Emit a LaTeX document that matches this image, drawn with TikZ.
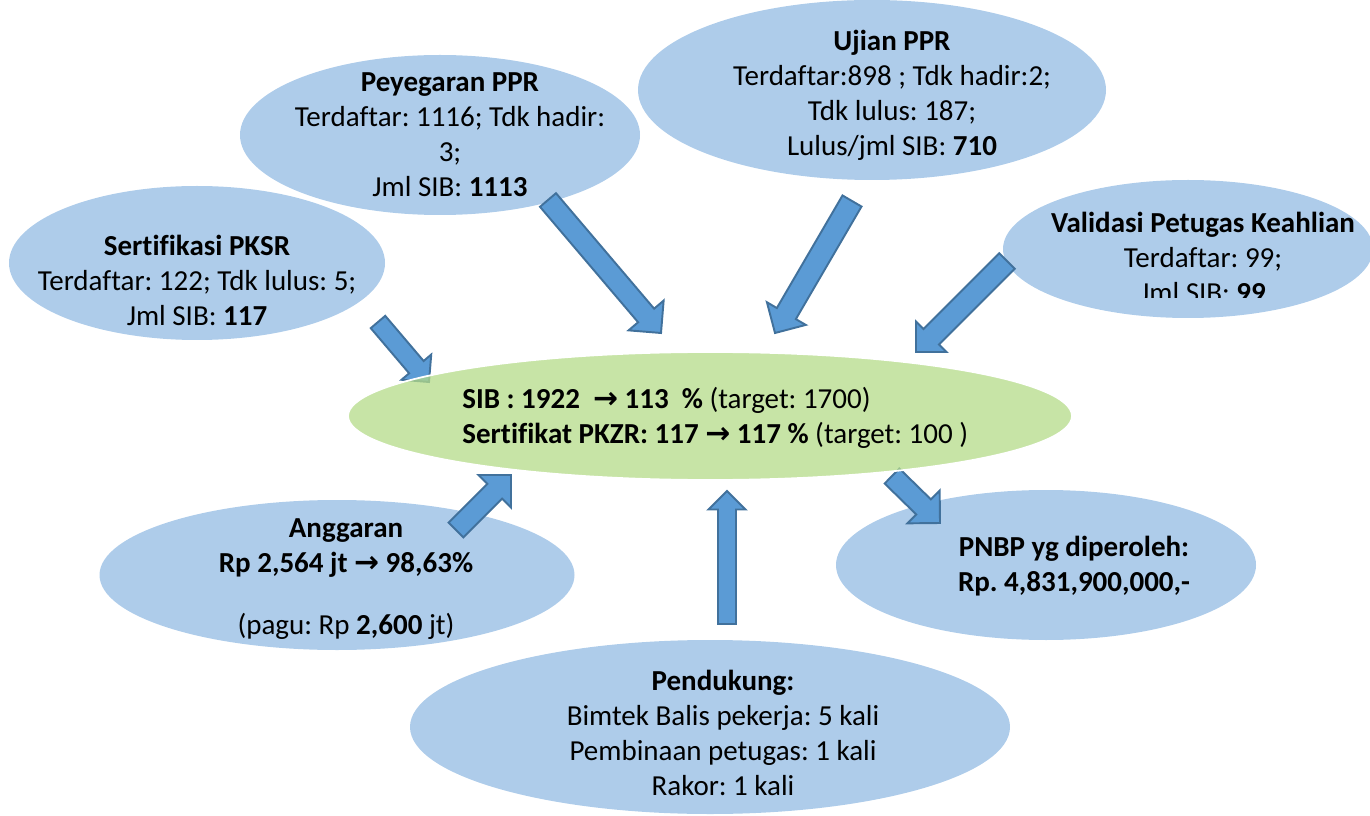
\documentclass[tikz,border=0pt]{standalone}
\usepackage{fontspec}
\setmainfont[Ligatures=NoCommon]{Carlito}
\newfontfamily\arrowfont{DejaVu Sans}
\usetikzlibrary{shapes.geometric, calc}
\frenchspacing

\definecolor{bubbleblue}{RGB}{174,204,234}
\definecolor{hubgreen}{RGB}{180,219,136}
\definecolor{arrowfill}{RGB}{91,155,213}
\definecolor{arrowline}{RGB}{65,113,156}
\newcommand{\goesto}{{\arrowfont\bfseries\fontsize{17}{17}\selectfont →}}

\tikzset{
	bubble/.style={ellipse, fill=bubbleblue, inner sep=0pt},
	info/.style={align=center, inner sep=0pt, font=\fontsize{16.5}{19.9}\selectfont},
	blockarrow/.style={draw=arrowline, fill=arrowfill, line width=1.1pt, line join=miter}
}

\begin{document}
\begin{tikzpicture}
	\useasboundingbox (0,0) rectangle (27.4,-16.32);
	\coordinate (hub) at (14.2,-8.32);

	% outer bubbles
	\node [bubble, minimum width=8cm, minimum height=3.2cm] (ppr) at ($(hub)+(-5.40,5.62)$) {};
	\node [bubble, minimum width=9.36cm, minimum height=3.6cm] (ujian) at ($(hub)+(3.24,6.52)$) {};
	\node [bubble, minimum width=7.4cm, minimum height=2.76cm] (valid) at ($(hub)+(9.56,3.34)$) {};
	\node [bubble, minimum width=7.52cm, minimum height=3.08cm] (pksr) at ($(hub)+(-10.26,3.06)$) {};
	\node [bubble, minimum width=9.5cm, minimum height=3cm] (dana) at ($(hub)+(-7.46,-3.18)$) {};
	\node [bubble, minimum width=8.4cm, minimum height=3cm] (pnbp) at ($(hub)+(6.72,-2.98)$) {};
	\node [bubble, minimum width=12cm, minimum height=3.48cm] (dukung) at ($(hub)+(0,-6.22)$) {};

	% arrow ends
	\coordinate (ppr-out) at (10.96,-4.00);   \coordinate (ppr-in) at (13.22,-6.66);
	\coordinate (ujian-out) at (17.04,-4.02); \coordinate (ujian-in) at (15.50,-6.66);
	\coordinate (valid-out) at (20.14,-5.22); \coordinate (valid-in) at (18.32,-7.04);
	\coordinate (pksr-out) at (7.56,-6.44);   \coordinate (pksr-in) at (8.58,-7.64);
	\coordinate (dana-out) at (9.12,-10.60);  \coordinate (dana-in) at (10.22,-9.50);
	\coordinate (dukung-out) at (14.54,-12.48); \coordinate (dukung-in) at (14.54,-9.82);
	\coordinate (hub-out) at (17.84,-9.52);   \coordinate (pnbp-in) at (18.80,-10.46);

	\foreach \a/\b/\s/\h in {ppr-out/ppr-in/2.1mm/4.6mm, ujian-out/ujian-in/2.2mm/4.5mm,
			valid-out/valid-in/2.2mm/4.3mm, pksr-out/pksr-in/1.9mm/3.9mm, dana-out/dana-in/2.1mm/4.6mm,
			dukung-out/dukung-in/1.8mm/3.7mm, hub-out/pnbp-in/2.1mm/4.6mm} {
		\coordinate (neck) at ($(\b)!\h!(\a)$);
		\draw [blockarrow] ($(\a)!\s!90:(\b)$) -- ($(neck)!\s!90:(\b)$) -- ($(neck)!\h!90:(\b)$) -- (\b)
			-- ($(neck)!\h!-90:(\b)$) -- ($(neck)!\s!-90:(\b)$) -- ($(\a)!\s!-90:(\b)$) -- cycle;
	}

	% centre
	\node [ellipse, fill=hubgreen, fill opacity=0.75, draw=white, line width=1pt, inner sep=0pt,
		minimum width=14.48cm, minimum height=2.56cm] (sib) at (hub) {};

	% texts
	\node [info] (ppr-txt) at ([xshift=0.2cm]ppr.center) {\textbf{Peyegaran PPR}\\ Terdaftar: 1116; Tdk hadir:\\ 3;\\ Jml SIB: \textbf{1113}};
	\node [info] (ujian-txt) at ([xshift=0.4cm, yshift=-0.11cm]ujian.center) {\textbf{Ujian PPR}\\ Terdaftar:898 ; Tdk hadir:2;\\ Tdk lulus: 187;\\ Lulus/jml SIB: \textbf{710}};
	\begin{scope}
		\clip (19,-3) rectangle (27.4,-5.96);
		\node [info] (valid-txt) at ([xshift=0.3cm, yshift=-0.16cm]valid.center) {\textbf{Validasi Petugas Keahlian}\\ Terdaftar: 99;\\ Jml SIB: \textbf{99}};
	\end{scope}
	\node [info] (pksr-txt) at ([yshift=-0.34cm]pksr.center) {\textbf{Sertifikasi PKSR}\\ Terdaftar: 122; Tdk lulus: 5;\\ Jml SIB: \textbf{117}};
	\node [info] (dana-txt) at ([xshift=0.18cm, yshift=-0.08cm]dana.center) {\textbf{Anggaran}\\ \textbf{Rp 2,564 jt \goesto\ 98,63\%}\\[15pt] (pagu: Rp \textbf{2,600} jt)};
	\node [info] (pnbp-txt) at ([xshift=0.56cm, yshift=-0.02cm]pnbp.center) {\textbf{PNBP yg diperoleh:}\\ \textbf{Rp. 4,831,900,000,-}};
	\node [info] (dukung-txt) at ([xshift=0.26cm, yshift=-0.12cm]dukung.center) {\textbf{Pendukung:}\\ Bimtek Balis pekerja: 5 kali\\ Pembinaan petugas: 1 kali\\ Rakor: 1 kali};
	\node [info, align=left, anchor=west] (sib-txt) at ([xshift=-4.96cm, yshift=-0.03cm]sib.center)
		{\textbf{SIB : 1922 \ \goesto\ 113 \ \%} (target: 1700)\\ \textbf{Sertifikat PKZR: 117 \goesto\ 117 \%} (target: 100 )};
\end{tikzpicture}
\end{document}
